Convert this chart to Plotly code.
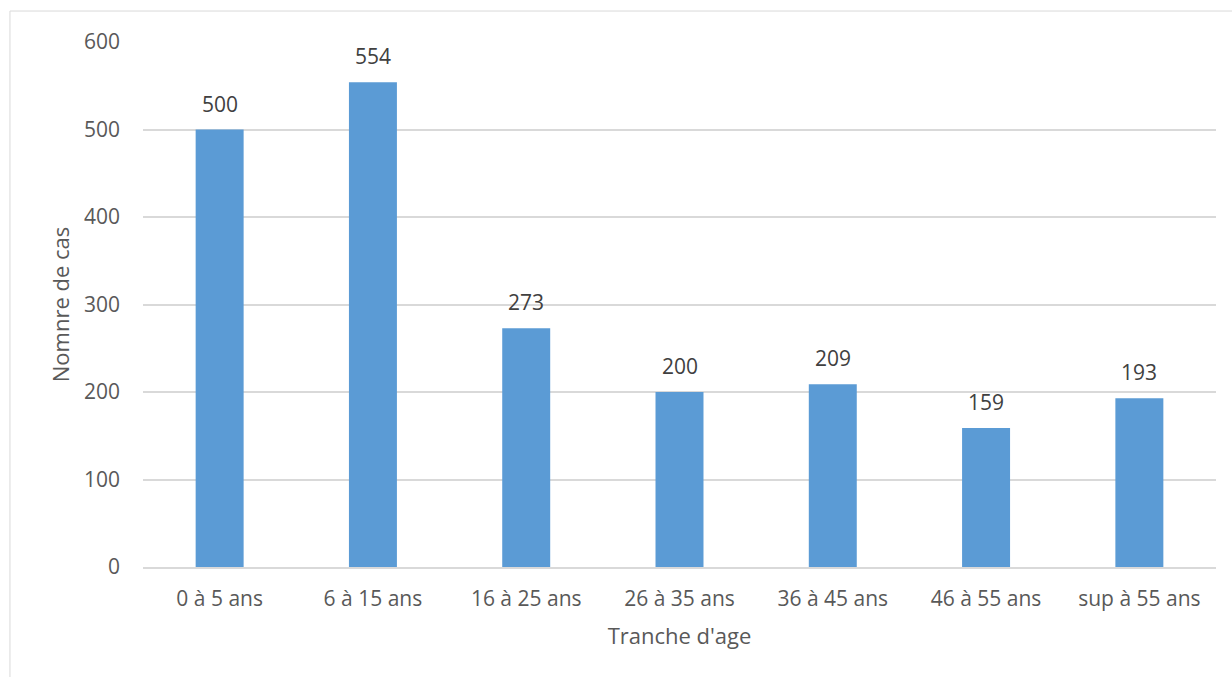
import plotly.graph_objects as go

# Cases per age bracket
categories = ["0 à 5 ans", "6 à 15 ans", "16 à 25 ans", "26 à 35 ans",
              "36 à 45 ans", "46 à 55 ans", "sup à 55 ans"]
cases = [500, 554, 273, 200, 209, 159, 193]
y_ticks = [0, 100, 200, 300, 400, 500, 600]

BAR_COLOR = "#5B9BD5"
GRID_COLOR = "#D9D9D9"
TICK_COLOR = "#595959"
LABEL_COLOR = "#404040"
FONT = "Open Sans, Lato, sans-serif"

fig = go.Figure(
    go.Bar(
        x=categories,
        y=cases,
        marker=dict(color=BAR_COLOR, line=dict(width=0)),
        hoverinfo="x+y",
    )
)

# Value labels above each bar
for cat, val in zip(categories, cases):
    fig.add_annotation(
        x=cat, y=val, text=str(val), showarrow=False,
        yanchor="bottom", yshift=10,
        font=dict(family=FONT, size=21, color=LABEL_COLOR),
    )

# Light frame around the chart area
fig.add_shape(
    type="rect", xref="paper", yref="paper",
    x0=-0.124, x1=1.2, y0=-0.4, y1=1.059,
    line=dict(color=GRID_COLOR, width=1), fillcolor="rgba(0,0,0,0)",
    layer="below",
)

fig.update_layout(
    width=1232, height=677,
    margin=dict(l=143, r=16, t=42, b=110),
    paper_bgcolor="white", plot_bgcolor="white",
    bargap=0.687,
    showlegend=False,
    font=dict(family=FONT, size=21, color=TICK_COLOR),
    xaxis=dict(
        title=dict(text="Tranche d'age", font=dict(size=22, color=TICK_COLOR), standoff=18),
        showline=True, linecolor=GRID_COLOR, linewidth=1.5,
        showgrid=False, ticks="", ticklabelstandoff=12,
        tickfont=dict(size=21, color=TICK_COLOR),
    ),
    yaxis=dict(
        title=dict(text="Nomnre de cas", font=dict(size=22, color=TICK_COLOR), standoff=8),
        range=[0, 600], tickvals=y_ticks,
        showgrid=True, gridcolor=GRID_COLOR, gridwidth=1.5,
        zeroline=False, showline=False, ticks="", ticklabelstandoff=22,
        tickfont=dict(size=21, color=TICK_COLOR),
    ),
)

fig.write_html("out.html")
